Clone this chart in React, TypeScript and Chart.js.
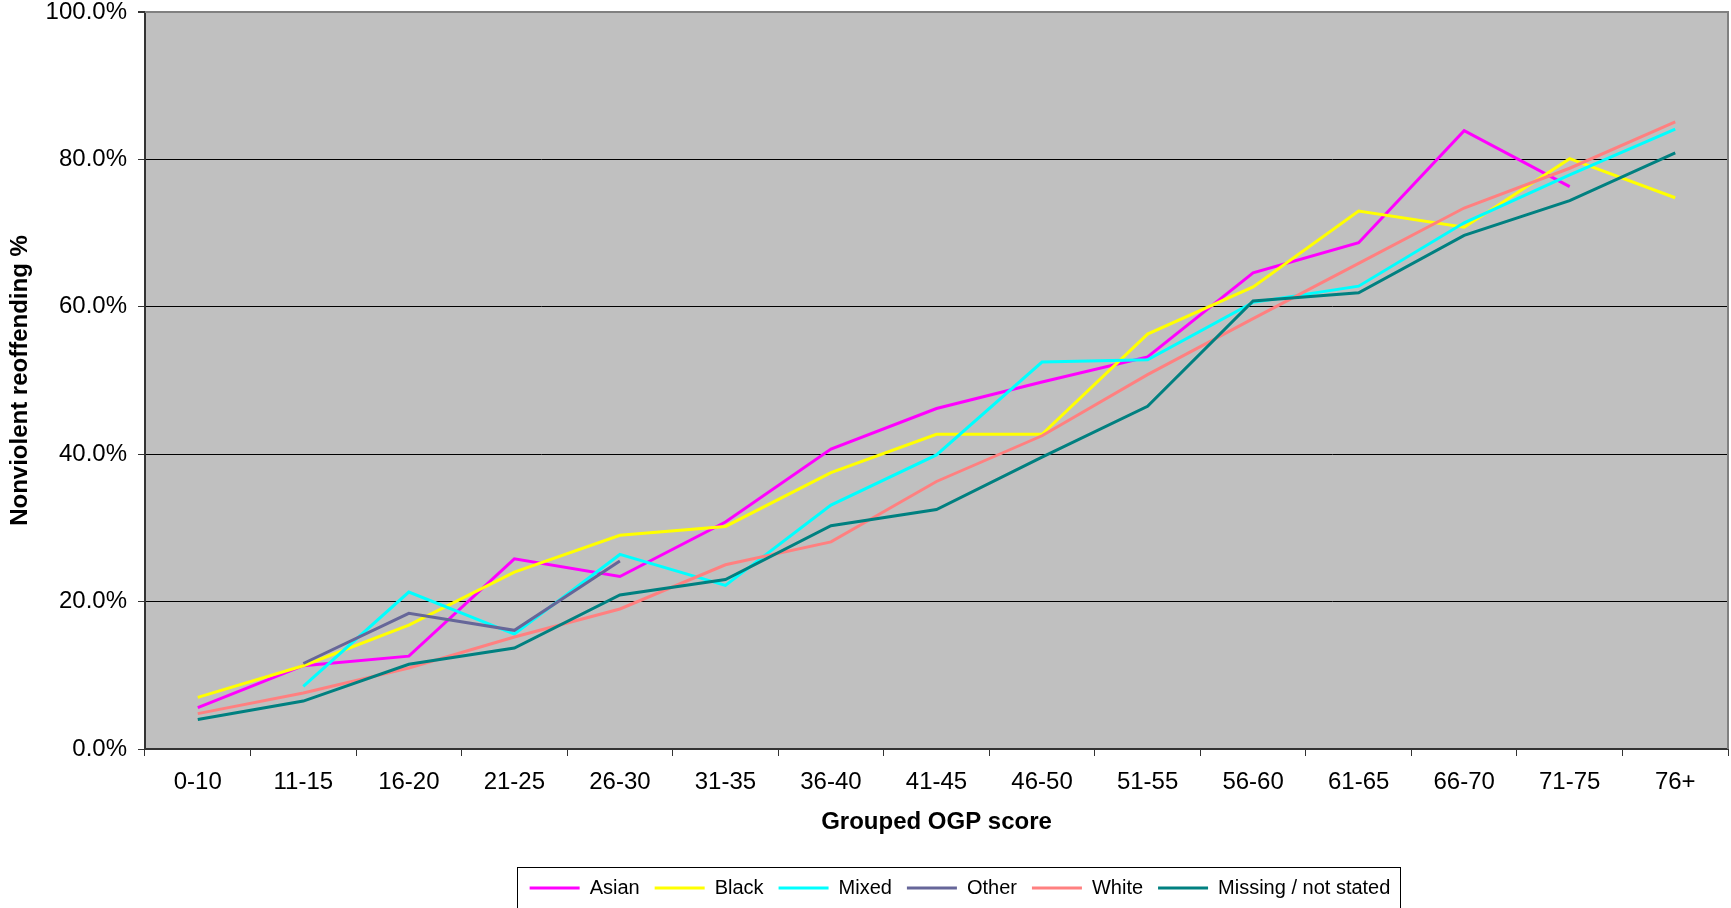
import React, { useEffect, useRef } from "react";
import { Chart, registerables } from "chart.js";

Chart.register(...registerables);

const categories = ["0-10", "11-15", "16-20", "21-25", "26-30", "31-35", "36-40", "41-45", "46-50", "51-55", "56-60", "61-65", "66-70", "71-75", "76+"];

const asian = [5.6, 11.3, 12.6, 25.8, 23.4, 30.8, 40.7, 46.2, 49.8, 53.2, 64.6, 68.7, 83.9, 76.3, null];
const black = [7.0, 11.3, 16.8, 24.0, 29.0, 30.2, 37.5, 42.7, 42.7, 56.3, 62.7, 73.0, 70.8, 80.1, 74.8];
const mixed = [null, 8.5, 21.3, 15.6, 26.4, 22.2, 33.1, 39.9, 52.5, 52.8, 60.6, 62.8, 71.4, 77.9, 84.1];
const other = [null, 11.6, 18.4, 16.1, 25.5, null, null, null, null, null, null, null, null, null, null];
const white = [4.8, 7.6, 11.0, 15.2, 19.0, 25.0, 28.1, 36.3, 42.5, 50.8, 58.4, 65.9, 73.4, 78.8, 85.1];
const missing = [4.0, 6.5, 11.5, 13.7, 20.9, 23.0, 30.3, 32.5, 39.6, 46.5, 60.8, 61.9, 69.7, 74.4, 80.9];

const seriesNames = ["Asian", "Black", "Mixed", "Other", "White", "Missing / not stated"];
const seriesColors = ["#FF00FF", "#FFFF00", "#00FFFF", "#666699", "#FF8080", "#008080"];

const yTicks = [0, 20, 40, 60, 80, 100];

const FONT = "'Liberation Sans', Arial, sans-serif";

const plotPlugin = {
  id: "plotDecor",
  afterUpdate(chart: any) {
    const lg = chart.legend;
    const hb = lg && lg.legendHitBoxes;
    if (!hb || !hb.length) return;
    const minX = Math.min(...hb.map((h: any) => h.left));
    const maxX = Math.max(...hb.map((h: any) => h.left + h.width));
    const d = Math.round(960 - (minX + maxX) / 2);
    lg.left += d;
    lg.right += d;
    hb.forEach((h: any) => {
      h.left += d;
    });
  },
  beforeDraw(chart: any) {
    const { ctx, chartArea } = chart;
    ctx.save();
    ctx.fillStyle = "#C0C0C0";
    ctx.fillRect(chartArea.left, chartArea.top, chartArea.right - chartArea.left, chartArea.bottom - chartArea.top);
    ctx.restore();
  },
  afterDraw(chart: any) {
    const { ctx, chartArea } = chart;
    ctx.save();
    ctx.strokeStyle = "#808080";
    ctx.lineWidth = 2;
    ctx.beginPath();
    ctx.moveTo(chartArea.left, chartArea.top);
    ctx.lineTo(chartArea.right, chartArea.top);
    ctx.lineTo(chartArea.right, chartArea.bottom);
    ctx.stroke();
    const lg = chart.legend;
    const hb = lg && lg.legendHitBoxes;
    if (hb && hb.length) {
      const minX = Math.min(...hb.map((h: any) => h.left));
      const maxX = Math.max(...hb.map((h: any) => h.left + h.width));
      ctx.strokeStyle = "#000";
      ctx.lineWidth = 1;
      ctx.strokeRect(Math.round(minX - 13) + 0.5, Math.round(lg.top + 4) + 0.5, Math.round(maxX - minX + 22), 80);
    }
    ctx.restore();
  },
};

export default function App() {
  const ref = useRef<HTMLCanvasElement>(null);

  useEffect(() => {
    if (!ref.current) return;
    const data = [asian, black, mixed, other, white, missing];
    const chart = new Chart(ref.current, {
      type: "line",
      data: {
        labels: categories,
        datasets: data.map((d, i) => ({
          label: seriesNames[i],
          data: d,
          borderColor: seriesColors[i],
          backgroundColor: seriesColors[i],
          borderWidth: 3,
          pointRadius: 0,
          tension: 0,
          spanGaps: false,
          order: 6 - i,
        })),
      },
      options: {
        responsive: false,
        animation: false,
        devicePixelRatio: 1,
        layout: { padding: { top: 12, right: 3, left: 0, bottom: 0 } },
        plugins: {
          tooltip: { enabled: false },
          legend: {
            position: "bottom",
            labels: {
              color: "#000",
              font: { family: FONT, size: 20 },
              boxWidth: 50,
              boxHeight: 3,
              padding: 15,
              sort: (a: any, b: any) => a.datasetIndex - b.datasetIndex,
              generateLabels: (c: any) =>
                Chart.defaults.plugins.legend.labels.generateLabels(c).map((l: any) => ({
                  ...l,
                  fillStyle: seriesColors[l.datasetIndex],
                  lineWidth: 0,
                })),
            },
          },
        },
        scales: {
          x: {
            offset: true,
            grid: {
              display: true,
              offset: true,
              drawOnChartArea: false,
              drawTicks: true,
              tickLength: 7,
              color: "#333",
              lineWidth: 1,
            },
            border: { display: true, color: "#333", width: 2 },
            ticks: {
              color: "#000",
              font: { family: FONT, size: 24 },
              padding: 12,
              maxRotation: 0,
              autoSkip: false,
            },
            title: {
              display: true,
              text: "Grouped OGP score",
              color: "#000",
              font: { family: FONT, size: 24, weight: "bold" },
              padding: { top: 0, bottom: 26 },
            },
            afterFit: (s: any) => {
              s.height = 114;
            },
          },
          y: {
            min: 0,
            max: 100,
            afterBuildTicks: (s: any) => {
              s.ticks = yTicks.map((v) => ({ value: v }));
            },
            grid: {
              color: (c: any) => (c.tick && c.tick.value === 100 ? "#808080" : "#000"),
              lineWidth: (c: any) => (c.tick && c.tick.value === 100 ? 2 : 1),
              tickColor: "#333",
              tickLength: 7,
              drawTicks: true,
            },
            border: { display: true, color: "#333", width: 2 },
            ticks: {
              color: "#000",
              font: { family: FONT, size: 24, lineHeight: 1 },
              padding: 11,
              callback: (v: any) => Number(v).toFixed(1) + "%",
            },
            title: {
              display: true,
              text: "Nonviolent reoffending %",
              color: "#000",
              font: { family: FONT, size: 24, weight: "bold" },
              padding: { top: 6, bottom: 0 },
            },
            afterFit: (s: any) => {
              s.width = 145;
              s.paddingTop = 0;
              s.paddingBottom = 0;
            },
          },
        },
      },
      plugins: [plotPlugin],
    } as any);
    return () => chart.destroy();
  }, []);

  return (
    <div style={{ position: "absolute", left: 0, top: 0, width: 1731, height: 908, background: "#fff" }}>
      <canvas ref={ref} width={1731} height={908} style={{ display: "block", width: 1731, height: 908 }} />
    </div>
  );
}
